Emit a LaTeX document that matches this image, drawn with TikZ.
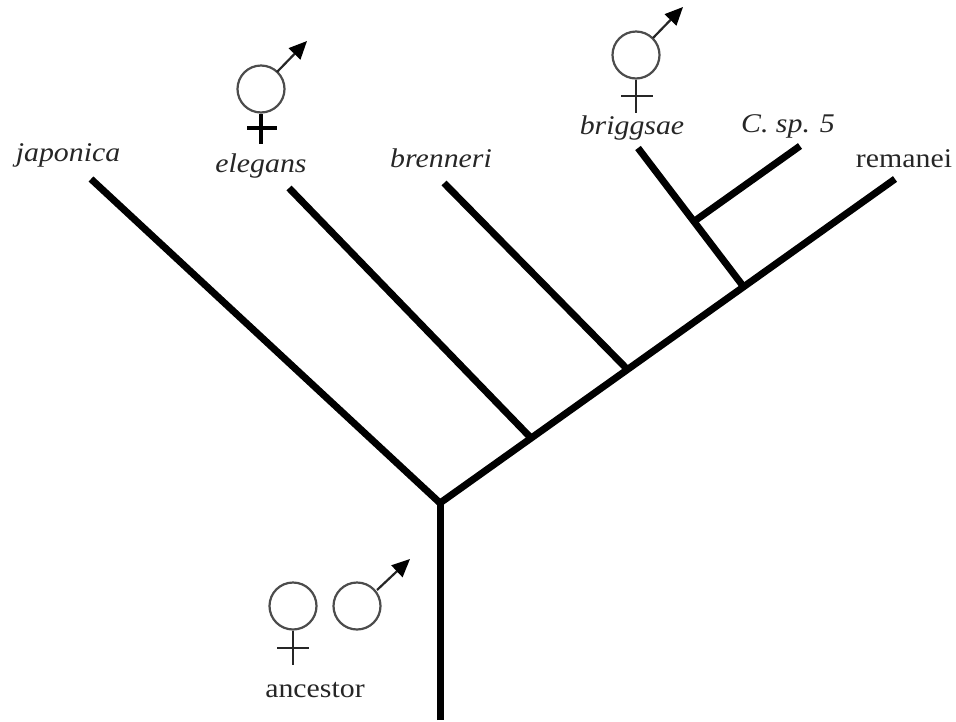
\documentclass[tikz,border=0pt]{standalone}
\usepackage{fontspec}
\setmainfont[FakeStretch=1.105]{Liberation Serif}
\usetikzlibrary{arrows.meta}
\tikzset{
  branch/.style={line width=7pt,black,line cap=butt},
  symring/.style={circle,draw=black!70,line width=2.2pt,minimum size=47pt,inner sep=0pt,fill=white},
  stem/.style={line width=2pt,black!85},
  stembold/.style={line width=3.5pt,black},
  marrow/.style={line width=2.2pt,black!85,-{Triangle[length=18pt,width=16pt,color=black]}},
  lab/.style={font=\fontsize{27}{30}\selectfont\itshape,inner sep=0pt,anchor=center,text=black!85},
  labr/.style={font=\fontsize{27}{30}\selectfont,inner sep=0pt,anchor=center,text=black!85}
}
\begin{document}
\begin{tikzpicture}[x=1pt,y=-1pt]
\useasboundingbox (0,0) rectangle (956,721);
% tree
\coordinate (root) at (440,720);
\coordinate (fork) at (440,503);
\coordinate (jap) at (91,179);
\coordinate (ele) at (289,188);
\coordinate (bre) at (444,183);
\coordinate (rem) at (895,179);
\coordinate (n1) at (531,438);
\coordinate (n2) at (627,369);
\coordinate (n3) at (743,286);
\coordinate (n4) at (696,220);
\coordinate (bri) at (638,148);
\coordinate (csp) at (800,146);
\draw[branch] (root) -- (fork);
\draw[branch] (jap) -- (fork);
\draw[branch] (fork) -- (rem);
\draw[branch] (ele) -- (n1);
\draw[branch] (bre) -- (n2);
\draw[branch] (bri) -- (n3);
\draw[branch] (n4) -- (csp);
% labels
\node[lab] (ljap) at (68,155) {japonica};
\node[lab] (lele) at (261,166) {elegans};
\node[lab] (lbre) at (441,158) {brenneri};
\node[lab] (lbri) at (632,128) {briggsae};
\node[lab] (lcsp) at (788,126) {C. sp. 5};
\node[labr] (lrem) at (904,159) {remanei};
\node[labr] (lanc) at (315,690) {ancestor};
% elegans symbol
\node[symring] (s1) at (261,89) {};
\coordinate (s1b) at (261,144);
\coordinate (s1l) at (247,128);
\coordinate (s1r) at (277,128);
\coordinate (s1a) at (307,41);
\draw[stembold] (s1) -- (s1b);
\draw[stembold] (s1l) -- (s1r);
\draw[marrow] (s1) ++(16,-17) -- (s1a);
% briggsae symbol
\node[symring] (s2) at (636,55) {};
\coordinate (s2b) at (636,113);
\coordinate (s2l) at (621,96);
\coordinate (s2r) at (653,96);
\coordinate (s2a) at (683,7);
\draw[stem] (s2) -- (s2b);
\draw[stem] (s2l) -- (s2r);
\draw[marrow] (s2) ++(17,-17) -- (s2a);
% ancestor female
\node[symring] (s3) at (293,606) {};
\coordinate (s3b) at (293,665);
\coordinate (s3l) at (277,648);
\coordinate (s3r) at (309,648);
\draw[stem] (s3) -- (s3b);
\draw[stem] (s3l) -- (s3r);
% ancestor male
\node[symring] (s4) at (357,606) {};
\coordinate (s4a) at (410,559);
\draw[marrow] (s4) ++(20,-16) -- (s4a);
\end{tikzpicture}
\end{document}
